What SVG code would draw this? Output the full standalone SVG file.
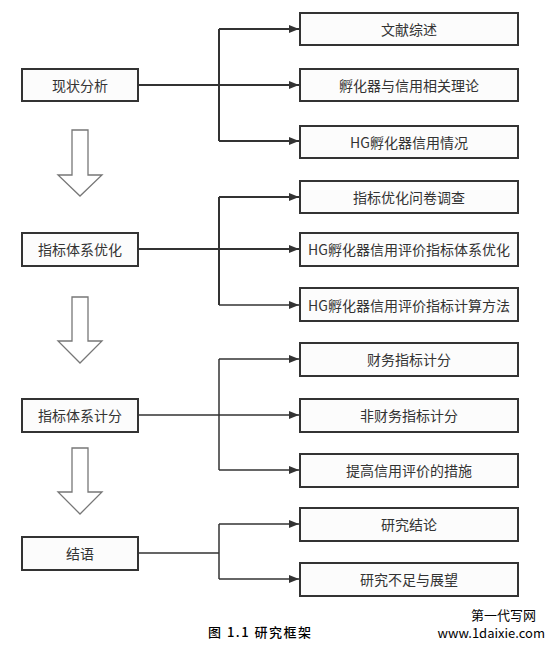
<svg xmlns="http://www.w3.org/2000/svg" width="555" height="648" viewBox="0 0 555 648">
<style>
.box{fill:#fcfcfc;stroke:#333;stroke-width:2}
.lbl{font-family:"Noto Sans CJK SC","Noto Sans",sans-serif;font-size:14px;fill:#333;text-anchor:middle;dominant-baseline:central}
.ln{fill:none;stroke:#333;stroke-width:2}
.ln2{fill:none;stroke:#333;stroke-width:1.5}
.big{fill:#fff;stroke:#777;stroke-width:1.3}
.cap{font-family:"Noto Sans CJK SC",sans-serif;font-size:13px;fill:#000}
</style>
<defs>
<marker id="ah" viewBox="0 0 10 8" refX="10" refY="4" markerWidth="10" markerHeight="8" markerUnits="userSpaceOnUse" orient="auto">
<path d="M0,0 L10,4 L0,8 Z" fill="#333"/>
</marker>
</defs>
<rect width="555" height="648" fill="#fff"/>
<g id="connectors">
<path class="ln" d="M138,85 H219 M219,29 V141"/>
<path class="ln" d="M219,29 H299" marker-end="url(#ah)"/>
<path class="ln" d="M219,85 H299" marker-end="url(#ah)"/>
<path class="ln" d="M219,141 H299" marker-end="url(#ah)"/>
<path class="ln" d="M138,249 H219 M219,197 V305"/>
<path class="ln" d="M219,197 H299" marker-end="url(#ah)"/>
<path class="ln" d="M219,249 H299" marker-end="url(#ah)"/>
<path class="ln2" d="M219,305 H299" marker-end="url(#ah)"/>
<path class="ln2" d="M138,415 H219 M219,359 V470"/>
<path class="ln2" d="M219,359 H299" marker-end="url(#ah)"/>
<path class="ln2" d="M219,415 H299" marker-end="url(#ah)"/>
<path class="ln2" d="M219,470 H299" marker-end="url(#ah)"/>
<path class="ln2" d="M138,553 H219 M219,524 V579"/>
<path class="ln2" d="M219,524 H299" marker-end="url(#ah)"/>
<path class="ln2" d="M219,579 H299" marker-end="url(#ah)"/>
</g>
<g id="flow-arrows">
<path class="big" d="M72,130 H88 V175 H102 L80,196 L58,175 H72 Z"/>
<path class="big" d="M72,297 H88 V341 H102 L80,363 L58,341 H72 Z"/>
<path class="big" d="M72,448 H88 V492 H102 L80,514 L58,492 H72 Z"/>
</g>
<g id="n1"><rect class="box" x="22" y="69" width="116" height="32"/><text class="lbl" x="80" y="85">现状分析</text></g>
<g id="n2"><rect class="box" x="22" y="233" width="116" height="33"/><text class="lbl" x="80" y="249">指标体系优化</text></g>
<g id="n3"><rect class="box" x="22" y="399" width="116" height="33"/><text class="lbl" x="80" y="415">指标体系计分</text></g>
<g id="n4"><rect class="box" x="22" y="537" width="116" height="33"/><text class="lbl" x="80" y="553">结语</text></g>
<g id="r1"><rect class="box" x="300" y="13" width="218" height="32"/><text class="lbl" x="409" y="29">文献综述</text></g>
<g id="r2"><rect class="box" x="300" y="69" width="218" height="32"/><text class="lbl" x="409" y="85">孵化器与信用相关理论</text></g>
<g id="r3"><rect class="box" x="300" y="126" width="218" height="32"/><text class="lbl" x="409" y="142">HG孵化器信用情况</text></g>
<g id="r4"><rect class="box" x="300" y="181" width="218" height="32"/><text class="lbl" x="409" y="197">指标优化问卷调查</text></g>
<g id="r5"><rect class="box" x="300" y="233" width="218" height="33"/><text class="lbl" x="409" y="249">HG孵化器信用评价指标体系优化</text></g>
<g id="r6"><rect class="box" x="300" y="288" width="218" height="33"/><text class="lbl" x="409" y="305">HG孵化器信用评价指标计算方法</text></g>
<g id="r7"><rect class="box" x="300" y="343" width="218" height="33"/><text class="lbl" x="409" y="359">财务指标计分</text></g>
<g id="r8"><rect class="box" x="300" y="399" width="218" height="33"/><text class="lbl" x="409" y="415">非财务指标计分</text></g>
<g id="r9"><rect class="box" x="300" y="454" width="218" height="33"/><text class="lbl" x="409" y="470">提高信用评价的措施</text></g>
<g id="r10"><rect class="box" x="300" y="508" width="218" height="33"/><text class="lbl" x="409" y="524">研究结论</text></g>
<g id="r11"><rect class="box" x="300" y="563" width="218" height="33"/><text class="lbl" x="409" y="579">研究不足与展望</text></g>
<text class="cap" x="208" y="637" font-weight="500" letter-spacing="1.5">图 1.1 研究框架</text>
<text class="cap" x="536" y="620" text-anchor="end" font-size="11">第一代写网</text>
<text class="cap" x="545" y="638" text-anchor="end" font-size="11" font-family="Liberation Sans,sans-serif">www.1daixie.com</text>
</svg>
